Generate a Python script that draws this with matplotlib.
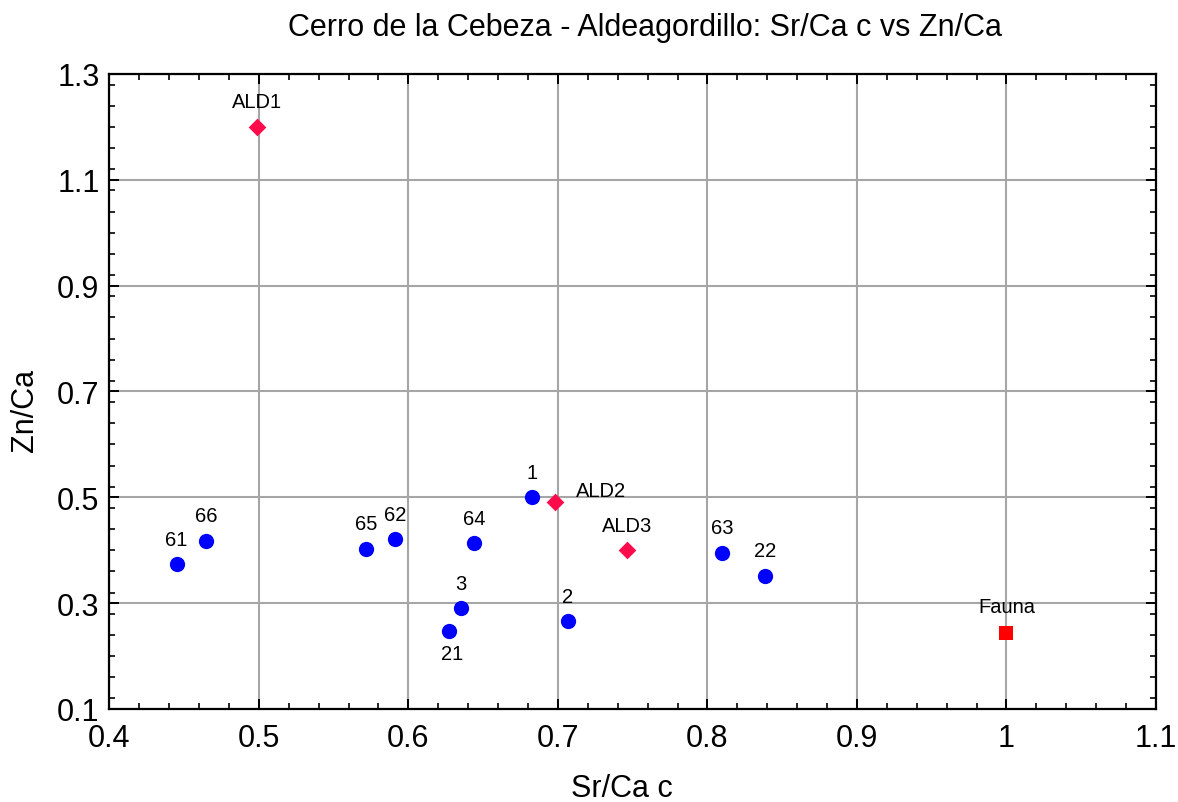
import matplotlib
matplotlib.use("Agg")
import matplotlib.pyplot as plt
from matplotlib.ticker import MultipleLocator

# ---- data ----
sample_labels = ["61", "66", "65", "62", "64", "3", "21", "1", "2", "63", "22"]
sample_sr = [0.445, 0.465, 0.572, 0.591, 0.644, 0.635, 0.6275, 0.6825, 0.7066, 0.810, 0.8388]
sample_zn = [0.374, 0.4175, 0.403, 0.4207, 0.413, 0.290, 0.247, 0.500, 0.266, 0.395, 0.352]

ald_labels = ["ALD1", "ALD2", "ALD3"]
ald_sr = [0.499, 0.698, 0.746]
ald_zn = [1.200, 0.491, 0.400]

fauna_labels = ["Fauna"]
fauna_sr = [1.0]
fauna_zn = [0.243]

x_ticks = [0.4, 0.5, 0.6, 0.7, 0.8, 0.9, 1.0, 1.1]
x_tick_labels = ["0.4", "0.5", "0.6", "0.7", "0.8", "0.9", "1", "1.1"]
y_ticks = [0.1, 0.3, 0.5, 0.7, 0.9, 1.1, 1.3]
y_tick_labels = ["0.1", "0.3", "0.5", "0.7", "0.9", "1.1", "1.3"]

title = "Cerro de la Cebeza - Aldeagordillo: Sr/Ca c vs Zn/Ca"
x_label = "Sr/Ca c"
y_label = "Zn/Ca"

# ---- style ----
plt.rcParams['font.family'] = ['Liberation Sans', 'DejaVu Sans']

fig = plt.figure(figsize=(11.78, 8.03), dpi=100)
ax = fig.add_axes([109.3 / 1178, 1 - 710 / 803, (1156 - 109.3) / 1178, (710 - 75) / 803])

ax.set_xlim(0.4, 1.1)
ax.set_ylim(0.1, 1.3)
ax.set_xticks(x_ticks)
ax.set_xticklabels(x_tick_labels)
ax.set_yticks(y_ticks)
ax.set_yticklabels(y_tick_labels)
ax.xaxis.set_minor_locator(MultipleLocator(0.02))
ax.yaxis.set_minor_locator(MultipleLocator(0.04))
ax.tick_params(which='both', direction='in', top=True, right=True, color='black')
ax.tick_params(which='major', length=7, width=1.4, labelsize=22, pad=10)
ax.tick_params(which='minor', length=4, width=1.2)
ax.tick_params(axis='y', which='major', pad=7)
for s in ax.spines.values():
    s.set_linewidth(1.6)
ax.grid(True, which='major', color='#a6a6a6', linewidth=1.5)
ax.set_axisbelow(True)

ax.scatter(sample_sr, sample_zn, s=11 ** 2, marker='o', color='#0000ff', zorder=3, linewidths=0)
ax.scatter(ald_sr, ald_zn, s=9 ** 2, marker='D', color='#ff0a4a', zorder=3, linewidths=0)
ax.scatter(fauna_sr, fauna_zn, s=10.5 ** 2, marker='s', color='#ff0000', zorder=3, linewidths=0)

# label offsets in points (dx, dy)
sample_offsets = {"21": (2, -16)}
ald_offsets = {"ALD2": (33, 8)}
default_offset = (0, 18)

for lab, x, y in zip(sample_labels, sample_sr, sample_zn):
    dx, dy = sample_offsets.get(lab, default_offset)
    ax.annotate(lab, (x, y), xytext=(dx, dy), textcoords='offset points',
                ha='center', va='center', fontsize=14.5)
for lab, x, y in zip(ald_labels, ald_sr, ald_zn):
    dx, dy = ald_offsets.get(lab, default_offset)
    ax.annotate(lab, (x, y), xytext=(dx, dy), textcoords='offset points',
                ha='center', va='center', fontsize=14.5)
for lab, x, y in zip(fauna_labels, fauna_sr, fauna_zn):
    ax.annotate(lab, (x, y), xytext=(0, 19), textcoords='offset points',
                ha='center', va='center', fontsize=14.5)

fig.text(645 / 1178, 1 - 28 / 803, title, ha='center', va='center', fontsize=22)
fig.text(622 / 1178, 1 - 789 / 803, x_label, ha='center', va='center', fontsize=22)
fig.text(25 / 1178, 1 - 410 / 803, y_label, ha='center', va='center', fontsize=22, rotation=90)

fig.savefig("out.png", dpi=100)
